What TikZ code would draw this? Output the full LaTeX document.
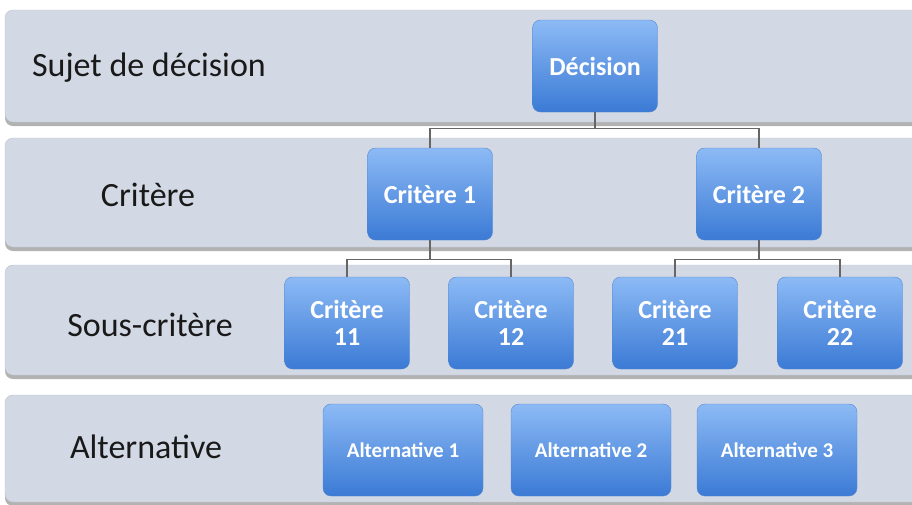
\documentclass[tikz,border=0pt]{standalone}
\usepackage{fontspec}
\setmainfont{Carlito}
\usepackage{tikz}
\usetikzlibrary{positioning}
\definecolor{bandgray}{HTML}{D3D9E4}
\definecolor{bandedge}{HTML}{BCC2CD}
\definecolor{boxtop}{HTML}{8CBAF5}
\definecolor{boxbot}{HTML}{3B7AD5}
\definecolor{boxedge}{HTML}{5586CF}
\newcommand{\band}[2]{\fill [black!30,rounded corners=8pt] (5,#1+4) rectangle (930,#2+4);
  \filldraw [fill=bandgray,draw=bandedge,rounded corners=8pt] (5,#1) rectangle (930,#2)}

\begin{document}
\begin{tikzpicture}[x=1pt,y=-1pt,
    box/.style={rounded corners=8pt,draw=boxedge,top color=boxtop,bottom color=boxbot,
      text=white,font=\fontsize{26}{27}\selectfont\bfseries,align=center,
      minimum width=125pt,minimum height=92pt,inner sep=2pt},
    alt/.style={box,font=\fontsize{21}{22}\selectfont\bfseries,minimum width=160pt},
    level/.style={text=black!90,font=\fontsize{34}{36}\selectfont},
    link/.style={draw=black!60,line width=1.2pt}]
    \useasboundingbox (0,0) rectangle (912,504);
    \clip (0,0) rectangle (912,504);
    \fill [white] (0,0) rectangle (912,504);

    \band{10}{122};
    \band{138}{247};
    \band{265}{375};
    \band{395}{502};

    \node[level] (sujet) at (149,68) {Sujet de décision};
    \node[level] (crit) at (148,195) {Critère};
    \node[level] (sous) at (150,325) {Sous-critère};
    \node[level] (alter) at (146,447) {Alternative};

    \node[box] (dec) at (595,66) {Décision};
    \node[box] (c1) at (430,194) {Critère 1};
    \node[box] (c2) at (759,194) {Critère 2};
    \node[box] (c11) at (347,323) {Critère\\11};
    \node[box] (c12) at (511,323) {Critère\\12};
    \node[box] (c21) at (675,323) {Critère\\21};
    \node[box] (c22) at (840,323) {Critère\\22};
    \node[alt] (a1) at (403,450) {Alternative 1};
    \node[alt] (a2) at (591,450) {Alternative 2};
    \node[alt] (a3) at (777,450) {Alternative 3};

    \draw[link] (dec.south) -- ++(0,16) -| (c1.north);
    \draw[link] (dec.south) -- ++(0,16) -| (c2.north);
    \draw[link] (c1.south) -- ++(0,19) -| (c11.north);
    \draw[link] (c1.south) -- ++(0,19) -| (c12.north);
    \draw[link] (c2.south) -- ++(0,19) -| (c21.north);
    \draw[link] (c2.south) -- ++(0,19) -| (c22.north);
\end{tikzpicture}
\end{document}
